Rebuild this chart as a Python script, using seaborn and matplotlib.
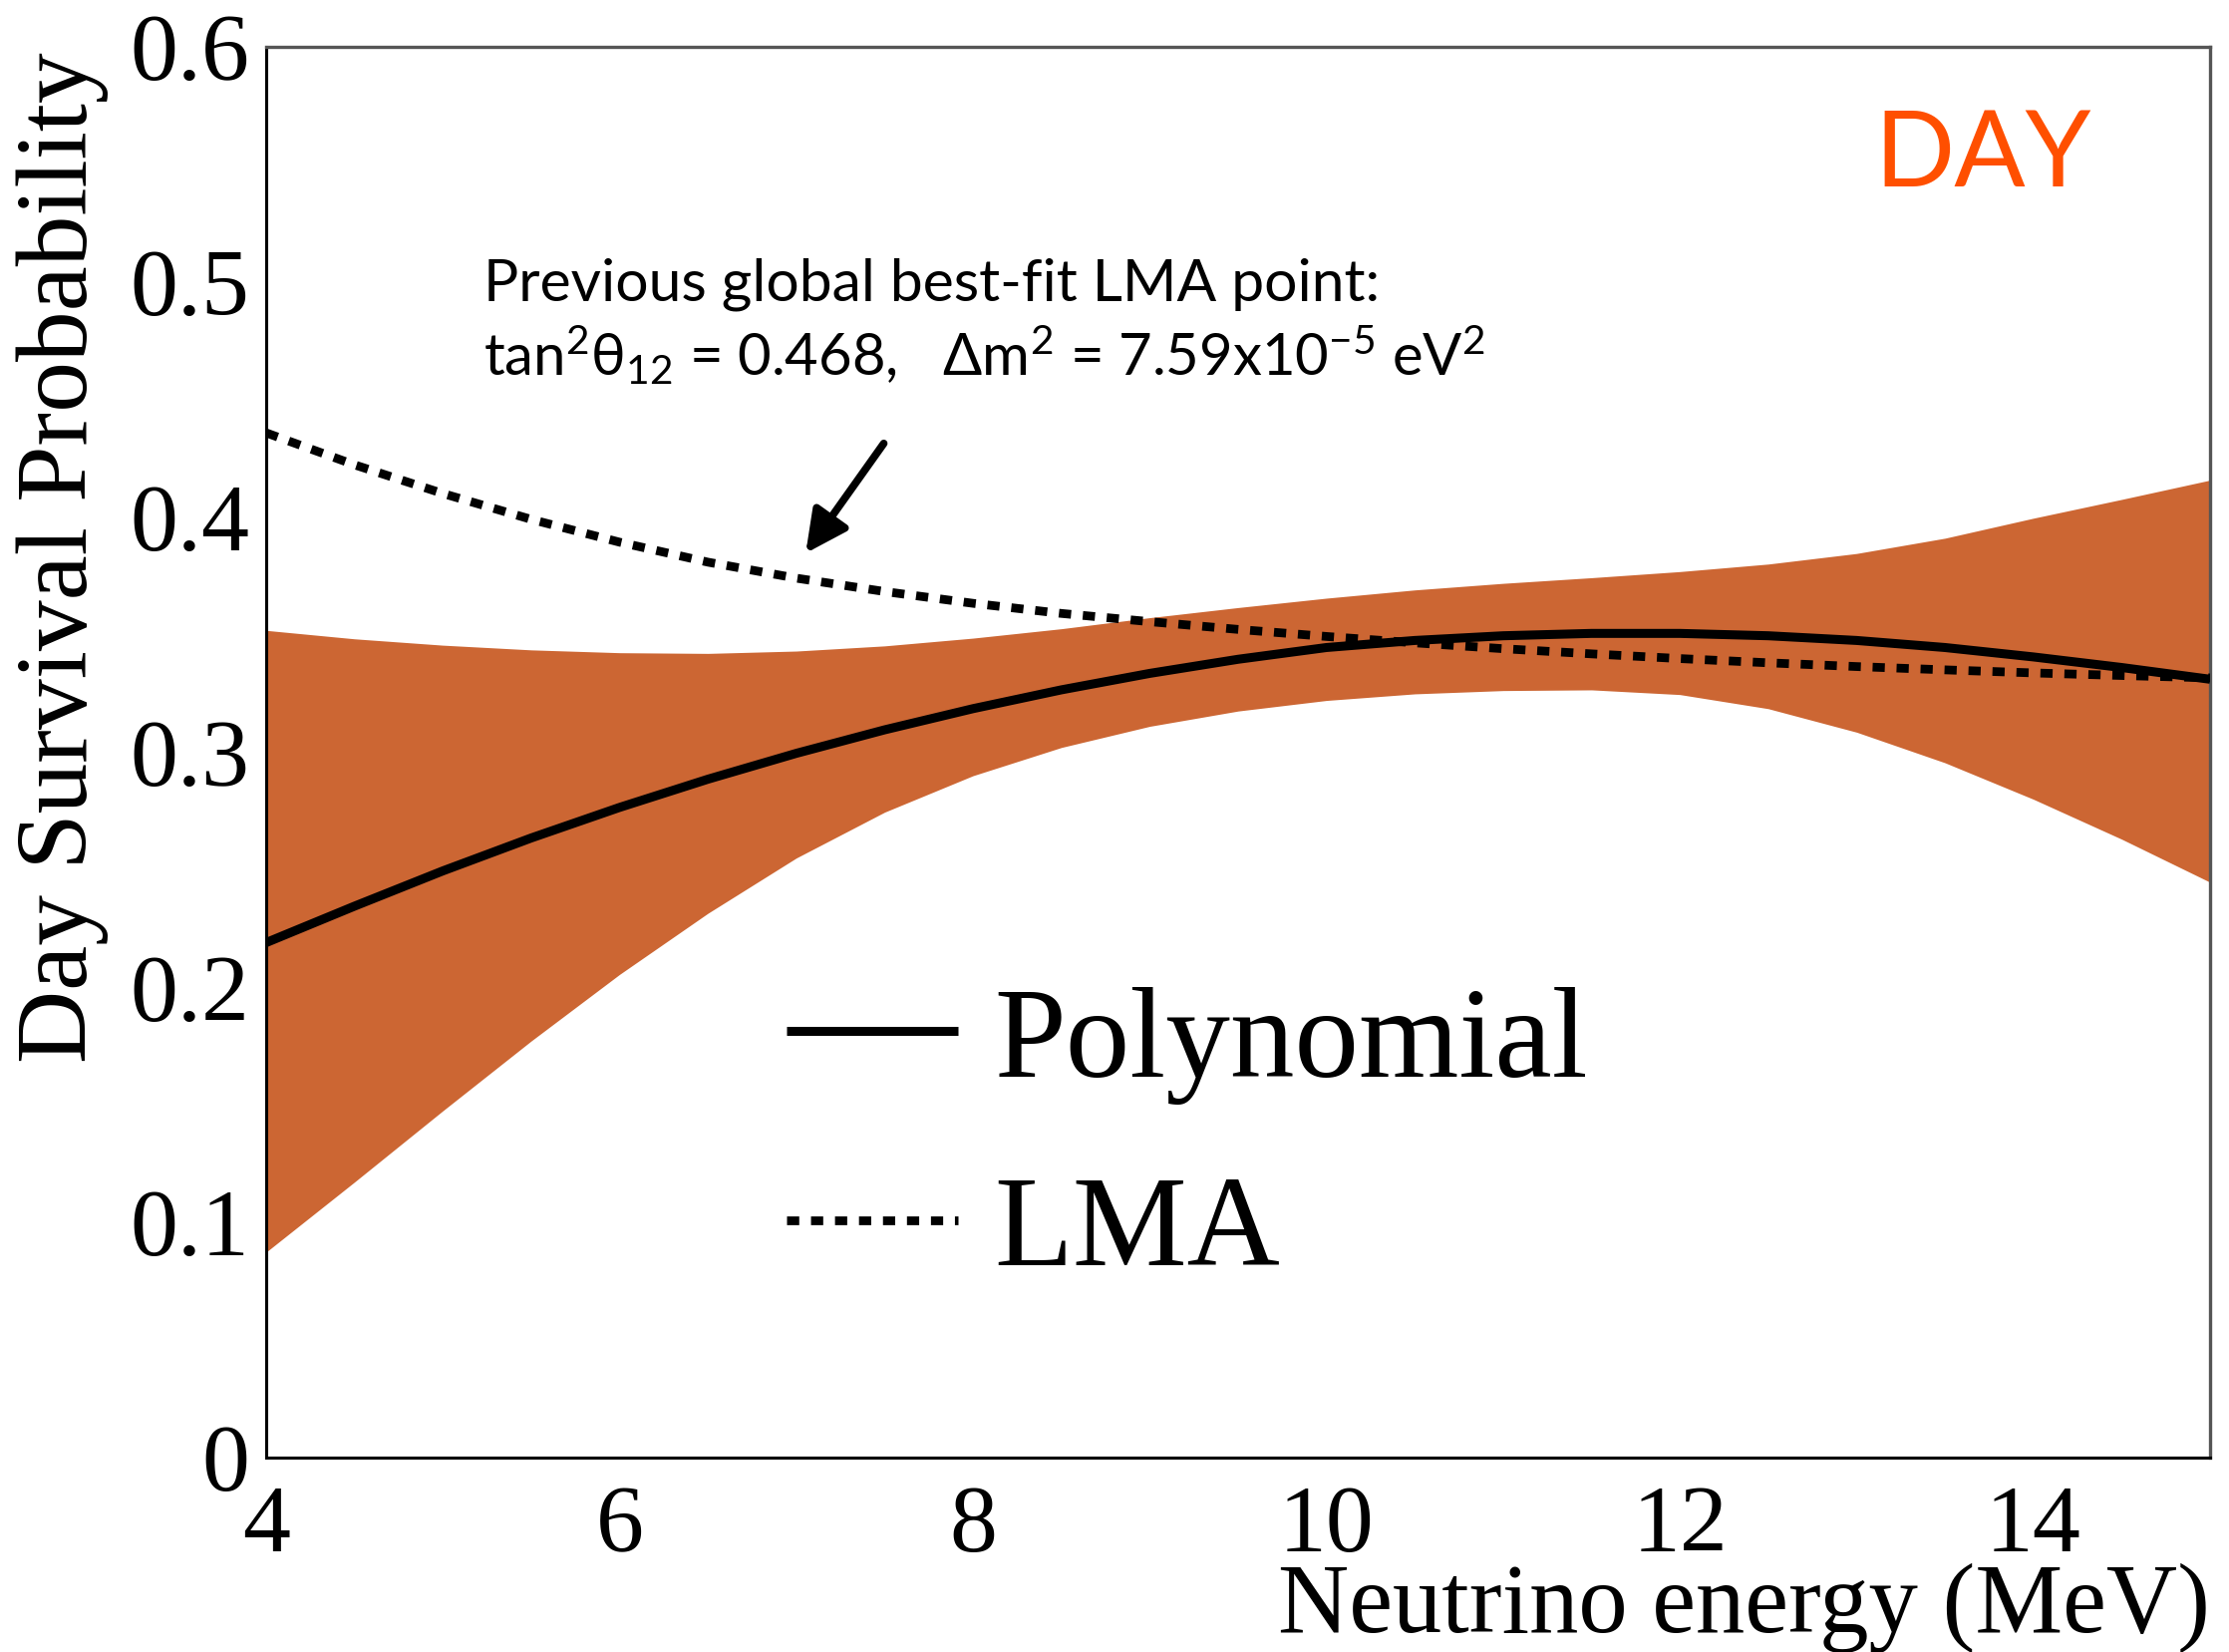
import numpy as np
import pandas as pd
import matplotlib
matplotlib.use("Agg")
import matplotlib.pyplot as plt
import seaborn as sns
from matplotlib.ticker import MultipleLocator

# ---------------- data ----------------
energy = [4.0, 4.5, 5.0, 5.5, 6.0, 6.5, 7.0, 7.5, 8.0, 8.5, 9.0, 9.5,
          10.0, 10.5, 11.0, 11.5, 12.0, 12.5, 13.0, 13.5, 14.0, 14.5, 15.0]
poly = [0.2190, 0.2345, 0.2495, 0.2635, 0.2765, 0.2885, 0.2995, 0.3095,
        0.3185, 0.3265, 0.3335, 0.3395, 0.3445, 0.3475, 0.3495, 0.3505,
        0.3505, 0.3495, 0.3475, 0.3445, 0.3405, 0.3360, 0.3310]
band_high = [0.3518, 0.3482, 0.3455, 0.3435, 0.3423, 0.3420, 0.3430, 0.3452,
             0.3485, 0.3525, 0.3572, 0.3615, 0.3655, 0.3690, 0.3718, 0.3742,
             0.3768, 0.3800, 0.3845, 0.3910, 0.3995, 0.4075, 0.4157]
band_low = [0.0874, 0.1172, 0.1475, 0.1772, 0.2055, 0.2315, 0.2550, 0.2745,
            0.2900, 0.3020, 0.3110, 0.3175, 0.3220, 0.3248, 0.3262, 0.3265,
            0.3245, 0.3185, 0.3085, 0.2955, 0.2800, 0.2630, 0.2447]
lma = [0.4358, 0.4222, 0.4100, 0.3990, 0.3893, 0.3808, 0.3740, 0.3683,
       0.3633, 0.3590, 0.3555, 0.3522, 0.3492, 0.3465, 0.3440, 0.3418,
       0.3398, 0.3380, 0.3364, 0.3350, 0.3337, 0.3326, 0.3316]

x_ticks = [4, 6, 8, 10, 12, 14]
x_tick_labels = ["4", "6", "8", "10", "12", "14"]
y_ticks = [0.0, 0.1, 0.2, 0.3, 0.4, 0.5, 0.6]
y_tick_labels = ["0", "0.1", "0.2", "0.3", "0.4", "0.5", "0.6"]

series_labels = ["Polynomial", "LMA"]
x_label = "Neutrino energy (MeV)"
y_label = "Day Survival Probability"
note_line1 = "Previous global best-fit LMA point:"
note_line2 = r"tan$^{2}$θ$_{12}$ = 0.468,   Δm$^{2}$ = 7.59x10$^{-5}$ eV$^{2}$"
arrow_tail = (7.495, 0.4313)
arrow_head = (7.053, 0.3846)
tag_text = "DAY"

# ---------------- style ----------------
sns.set_style("white")
plt.rcParams['font.family'] = ['Liberation Serif', 'DejaVu Serif']
plt.rcParams['mathtext.fontset'] = 'custom'
plt.rcParams['mathtext.rm'] = 'Lato'
plt.rcParams['mathtext.it'] = 'Lato:italic'
plt.rcParams['mathtext.default'] = 'regular'
plt.rcParams['text.color'] = 'black'
plt.rcParams['axes.labelcolor'] = 'black'
plt.rcParams['xtick.color'] = 'black'
plt.rcParams['ytick.color'] = 'black'

band_color = '#CC6633'
sans = ['Lato', 'DejaVu Sans']

fig = plt.figure(figsize=(22.36, 16.57), dpi=100)
ax = fig.add_axes([0.1194, 0.1177, 0.8721, 0.8540])

df = pd.DataFrame({"energy": energy, "poly": poly, "low": band_low,
                   "high": band_high, "lma": lma})

ax.fill_between(df["energy"], df["low"], df["high"], color=band_color,
                linewidth=0, zorder=1)
sns.lineplot(data=df, x="energy", y="poly", ax=ax, color="black",
             linewidth=6.5, label=series_labels[0], zorder=4)
sns.lineplot(data=df, x="energy", y="lma", ax=ax, color="black",
             linewidth=6.3, linestyle=(0, (1.4, 1.35)), label=series_labels[1],
             zorder=3)
for ln in ax.lines:
    ln.set_dash_capstyle('butt')
    ln.set_solid_capstyle('butt')

ax.set_xlim(4, 15)
ax.set_ylim(0, 0.6)
ax.set_xticks(x_ticks, x_tick_labels)
ax.set_yticks(y_ticks, y_tick_labels)
ax.xaxis.set_minor_locator(MultipleLocator(0.5))
ax.yaxis.set_minor_locator(MultipleLocator(0.02))
ax.tick_params(axis='x', which='major', direction='in', length=32, width=1.5,
               pad=20, labelsize=69, top=False, color='#222222',
               labelcolor='black')
ax.tick_params(axis='x', which='minor', direction='in', length=15, width=1.5,
               top=False, color='#222222')
ax.tick_params(axis='y', which='major', direction='in', length=41, width=1.5,
               pad=12, labelsize=69, right=False, color='#222222',
               labelcolor='black')
ax.tick_params(axis='y', which='minor', direction='in', length=20, width=1.5,
               right=False, color='#222222')

for side in ['left', 'bottom']:
    ax.spines[side].set_color('black')
    ax.spines[side].set_linewidth(2.2)
for side in ['top', 'right']:
    ax.spines[side].set_color('#555555')
    ax.spines[side].set_linewidth(2.4)

ax.set_xlabel(x_label, fontsize=71, loc='right', color='black')
ax.xaxis.set_label_coords(1.0, -0.0745)
ax.set_ylabel(y_label, fontsize=73, loc='top', color='black')
ax.yaxis.set_label_coords(-0.081, 0.996)

handles, labels = ax.get_legend_handles_labels()
ax.legend(handles, labels, loc='upper left', bbox_to_anchor=(0.3529, 0.403),
          bbox_transform=fig.transFigure, frameon=False, fontsize=93,
          handlelength=1.33, handletextpad=0.28, labelspacing=0.55,
          borderpad=0, borderaxespad=0)

ax.text(0.1118, 0.820, note_line1, transform=ax.transAxes, fontsize=42.3,
        family=sans, va='baseline', ha='left', color='black')
ax.text(0.1118, 0.767, note_line2, transform=ax.transAxes, fontsize=41.8,
        family=sans, va='baseline', ha='left', color='black')
ax.annotate('', xy=arrow_head, xytext=arrow_tail,
            arrowprops=dict(arrowstyle='-|>,head_length=0.6,head_width=0.3',
                            lw=5.5, color='black', mutation_scale=42,
                            shrinkA=0, shrinkB=0), zorder=5)

ax.text(0.8274, 0.9013, tag_text, transform=ax.transAxes, fontsize=76,
        family=sans, color='#FF4F00', va='baseline', ha='left')

fig.savefig("out.png", dpi=100)
